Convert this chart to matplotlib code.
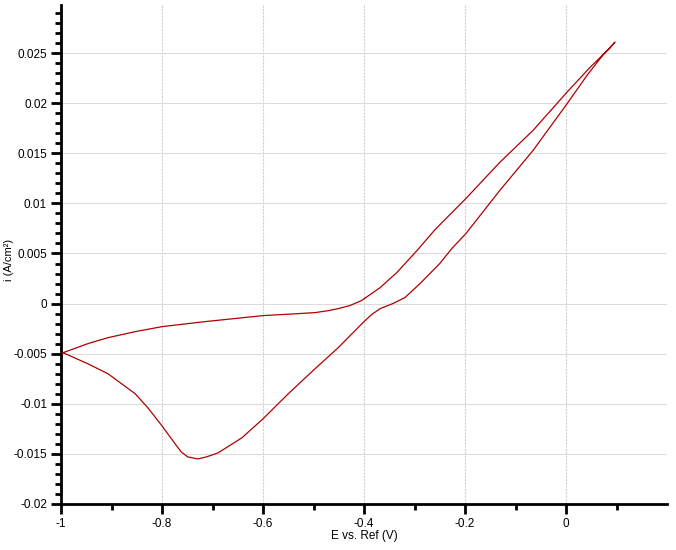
import matplotlib
matplotlib.use("Agg")
import matplotlib.pyplot as plt
from matplotlib.ticker import MultipleLocator, FuncFormatter, FixedLocator

# forward branch (left apex -> right apex)
e_fwd = [-0.996, -0.947, -0.907, -0.853, -0.800, -0.715, -0.600, -0.530, -0.497,
         -0.470, -0.451, -0.428, -0.405, -0.385, -0.368, -0.335, -0.295, -0.259,
         -0.198, -0.131, -0.065, 0.002, 0.048, 0.087, 0.097]
i_fwd = [-0.0049, -0.0040, -0.0034, -0.0028, -0.0023, -0.0018, -0.0012, -0.0010, -0.0009,
         -0.0007, -0.0005, -0.0002, 0.0003, 0.0010, 0.0016, 0.0031, 0.0053, 0.0074,
         0.0105, 0.0141, 0.0173, 0.0211, 0.0236, 0.0255, 0.0261]

# reverse branch (right apex -> left apex)
e_rev = [0.073, 0.042, 0.000, -0.065, -0.131, -0.198, -0.226, -0.250, -0.289,
         -0.319, -0.343, -0.368, -0.385, -0.402, -0.451, -0.497, -0.550, -0.600,
         -0.642, -0.689, -0.712, -0.729, -0.749, -0.762, -0.774, -0.800, -0.828,
         -0.853, -0.907, -0.947, -0.996]
i_rev = [0.0248, 0.0228, 0.0198, 0.0153, 0.0113, 0.0070, 0.0055, 0.0040, 0.0020,
         0.0006, 0.0000, -0.0005, -0.0011, -0.0019, -0.0044, -0.0065, -0.0090, -0.0115,
         -0.0134, -0.0149, -0.0153, -0.0155, -0.0153, -0.0148, -0.0140, -0.0122, -0.0104,
         -0.0090, -0.0070, -0.0060, -0.0049]

x_major = [-1.0, -0.8, -0.6, -0.4, -0.2, 0.0]
x_minor = [-0.9, -0.7, -0.5, -0.3, -0.1, 0.1]

plt.rcParams['font.family'] = ['Liberation Sans', 'DejaVu Sans']

fig = plt.figure(figsize=(6.76, 5.5), dpi=100)
ax = fig.add_axes([61 / 676, 46 / 550, 606 / 676, 499 / 550])

ax.plot(e_fwd + e_rev, i_fwd + i_rev, color='#b00000', linewidth=0.9, zorder=3)

ax.xaxis.set_major_locator(FixedLocator(x_major))
ax.xaxis.set_minor_locator(FixedLocator(x_minor))
ax.yaxis.set_major_locator(MultipleLocator(0.005))
ax.yaxis.set_minor_locator(MultipleLocator(0.001))

ax.set_xlim(-1.0, 0.2)
ax.set_ylim(-0.02, 0.0298)

fmt = FuncFormatter(lambda v, p: "0" if abs(v) < 1e-9 else f"{v:g}")
ax.xaxis.set_major_formatter(fmt)
ax.yaxis.set_major_formatter(fmt)

# grid: horizontal solid, vertical dotted
ax.grid(True, which='major', axis='y', color='#dcdcdc', linewidth=0.8, linestyle='-')
ax.grid(True, which='major', axis='x', color='#d0d0d0', linewidth=0.8, linestyle=(0, (2, 1)))
ax.set_axisbelow(True)

for side in ['top', 'right']:
    ax.spines[side].set_visible(False)
for side in ['left', 'bottom']:
    ax.spines[side].set_linewidth(2)

ax.tick_params(which='major', length=7, width=2, labelsize=8.5, pad=3)
ax.tick_params(which='minor', length=4, width=2)

ax.set_xlabel("E vs. Ref (V)", fontsize=8.5, labelpad=0)
ax.set_ylabel("i (A/cm²)", fontsize=8)
ax.yaxis.set_label_coords(-0.078, 0.49)

plt.savefig("out.png", dpi=100)
plt.close()
